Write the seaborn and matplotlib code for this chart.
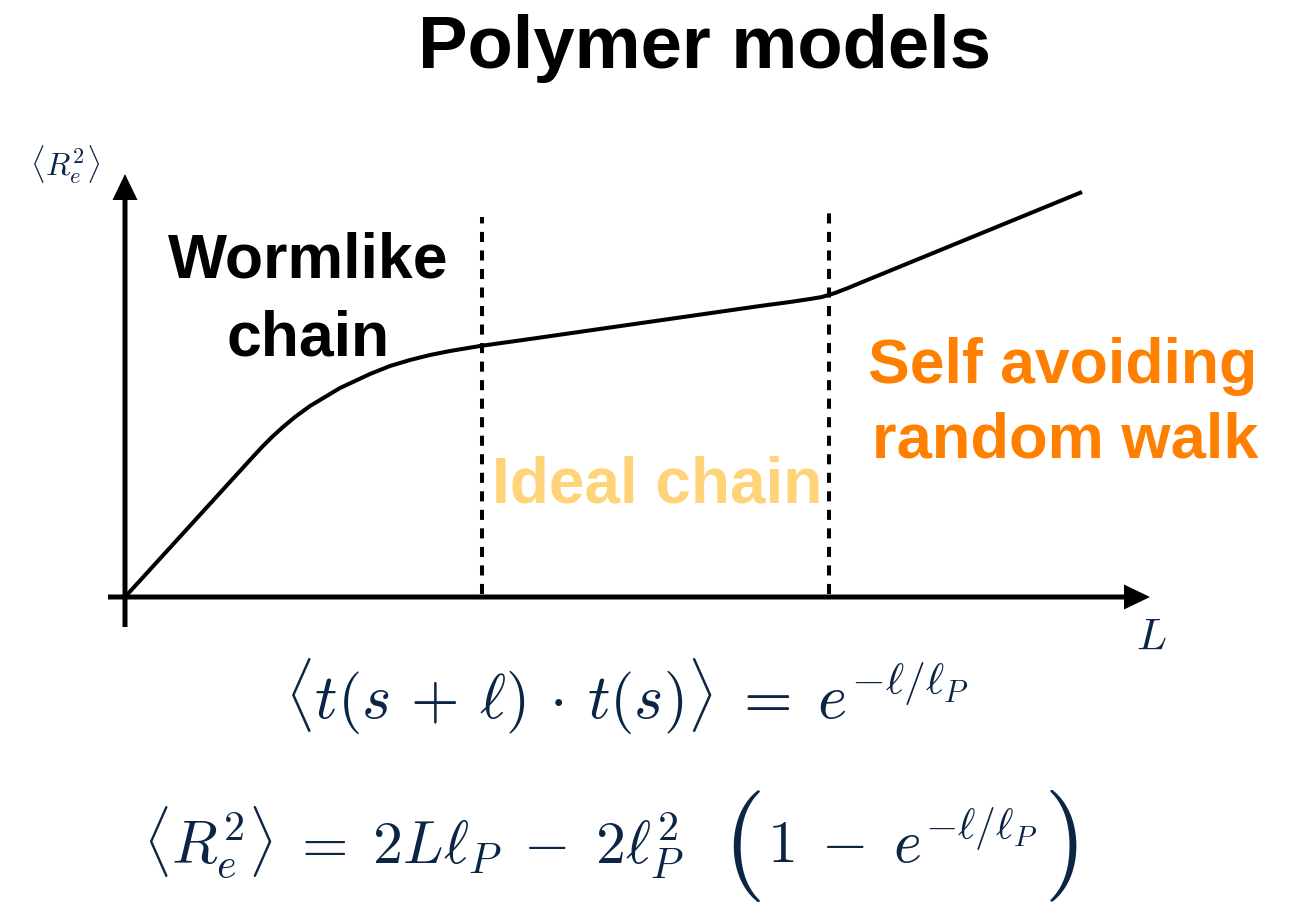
import matplotlib
matplotlib.use("Agg")
import matplotlib.pyplot as plt
import pandas as pd
import seaborn as sns

# Schematic mean-square end-to-end distance versus contour length
contour_length = [0, 125, 137, 147, 158, 170, 185, 200, 215, 230, 245, 265, 285,
                  305, 325, 355, 405, 635, 665, 685, 697, 710, 723, 735, 957]
mean_sq_distance = [0, 137, 150, 160, 170, 180, 191, 200, 209, 216, 223, 231, 237,
                    242, 246, 251, 258, 291, 295, 298, 300, 304, 309, 314, 405]

# Crossover lengths between regimes (dashed separators) and their heights
crossover_L = [357, 704]
crossover_top = [380, 385]

regime_lines = [["Wormlike", "chain"], ["Ideal chain"], ["Self avoiding", "random walk"]]
regime_colors = ["#000000", "#FFD479", "#FF8000"]

title = "Polymer models"
eq_correlation = r"$\langle t(s\,+\,\ell)\,\cdot\, t(s)\rangle \;=\; e^{-\ell/\ell_P}$"
eq_radius_head = r"$\langle R_e^2\rangle \;=\; 2L\ell_P \;-\; 2\ell_P^2$"
eq_radius_tail = r"$1 \;-\; e^{-\ell/\ell_P}$"
y_label = r"$\langle R_e^2\rangle$"
x_label = r"$L$"

sns.set_theme(style="white")
plt.rcParams["font.family"] = ["Liberation Sans", "DejaVu Sans"]
plt.rcParams["mathtext.fontset"] = "cm"

navy = "#0B2545"

fig = plt.figure(figsize=(12.9, 9.03), dpi=100)
ax = fig.add_axes([0, 0, 1, 1])
ax.set_xlim(-125, 1165)
ax.set_ylim(-305, 598)
ax.set_aspect("equal")
ax.axis("off")

df = pd.DataFrame({"L": contour_length, "R2": mean_sq_distance})
sns.lineplot(data=df, x="L", y="R2", sort=False, color="black", lw=2.9,
             ax=ax, solid_capstyle="butt", solid_joinstyle="round")

# regime boundaries
for xl, top in zip(crossover_L, crossover_top):
    ax.plot([xl, xl], [3, top], color="black", lw=2.9,
            linestyle=(0, (2.5, 2.1)), solid_capstyle="butt")

# axes with arrow heads
ax.arrow(0, -30, 0, 453, width=5, head_width=25, head_length=26,
         length_includes_head=True, color="black", lw=0)
ax.arrow(-17, 0, 1042, 0, width=5, head_width=25, head_length=26,
         length_includes_head=True, color="black", lw=0)

# title
ax.text(580, 530, title, ha="center", va="baseline", fontsize=53.5,
        fontweight="bold", color="black")

# regime labels
label_kw = dict(ha="center", va="baseline", fontweight="bold")
ax.text(183, 320, regime_lines[0][0], fontsize=45, color=regime_colors[0], **label_kw)
ax.text(183, 243, regime_lines[0][1], fontsize=45, color=regime_colors[0], **label_kw)
ax.text(532, 95, regime_lines[1][0], fontsize=46, color=regime_colors[1], **label_kw)
ax.text(938, 215, regime_lines[2][0], fontsize=45, color=regime_colors[2], **label_kw)
ax.text(940, 140, regime_lines[2][1], fontsize=45.5, color=regime_colors[2], **label_kw)

# axis labels
ax.text(-60, 422, y_label, ha="center", va="baseline", fontsize=23, color=navy)
ax.text(1026, -40, x_label, ha="center", va="center", fontsize=32, color=navy)

# tangent correlation
ax.text(502, -121, eq_correlation, ha="center", va="baseline", fontsize=45,
        color=navy)

# end-to-end distance of the wormlike chain, with tall parentheses
base_y, axis_y = -265, -248
head = ax.text(18, base_y, eq_radius_head, ha="left", va="baseline",
               fontsize=43, color=navy)
lpar = ax.annotate(r"$($", xy=(1, axis_y), xycoords=(head, "data"),
                   xytext=(28, 0), textcoords="offset points",
                   ha="left", va="center", fontsize=80, color=navy)
tail = ax.annotate(eq_radius_tail, xy=(1, base_y), xycoords=(lpar, "data"),
                   xytext=(4, 0), textcoords="offset points",
                   ha="left", va="baseline", fontsize=43, color=navy)
ax.annotate(r"$)$", xy=(1, axis_y), xycoords=(tail, "data"),
            xytext=(4, 0), textcoords="offset points",
            ha="left", va="center", fontsize=80, color=navy)

fig.savefig("out.png", dpi=100, facecolor="white")
